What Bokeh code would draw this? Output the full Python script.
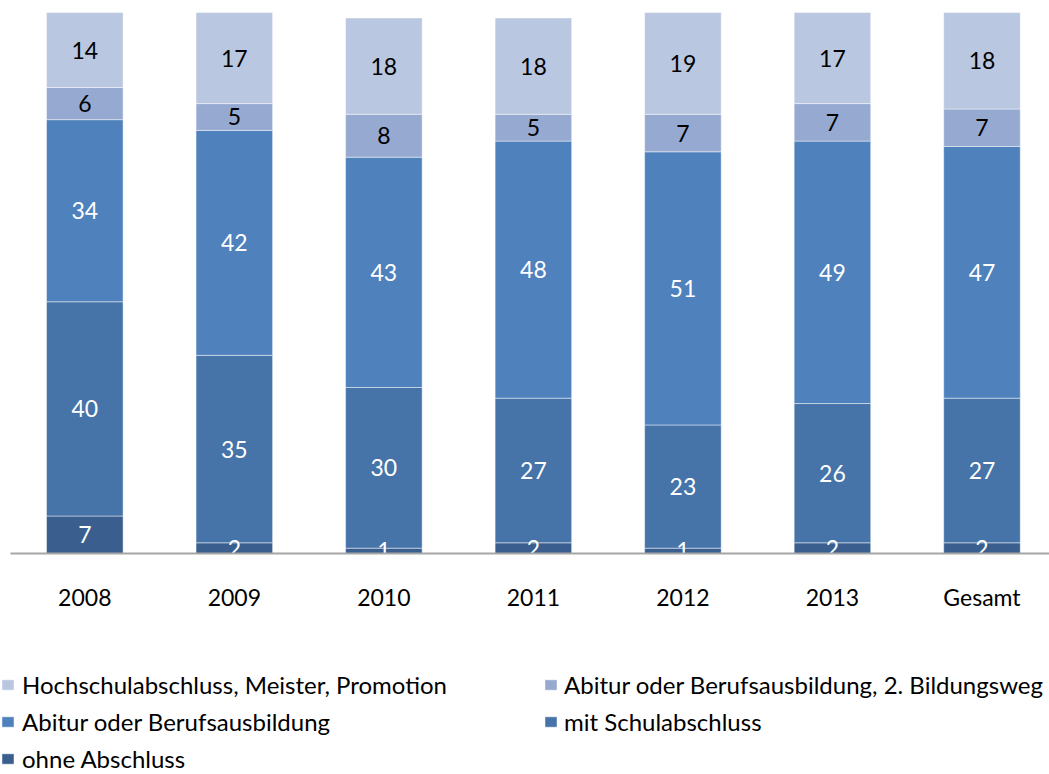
import numpy as np
from bokeh.plotting import figure
from bokeh.models import ColumnDataSource, Range1d, FixedTicker, Legend, LegendItem
from bokeh.core.properties import value
from bokeh.embed import file_html
from bokeh.resources import INLINE

categories = ["2008", "2009", "2010", "2011", "2012", "2013", "Gesamt"]
ohne_abschluss = [7, 2, 1, 2, 1, 2, 2]
mit_schulabschluss = [40, 35, 30, 27, 23, 26, 27]
abitur_berufsausbildung = [34, 42, 43, 48, 51, 49, 47]
zweiter_bildungsweg = [6, 5, 8, 5, 7, 7, 7]
hochschulabschluss = [14, 17, 18, 18, 19, 17, 18]

series_names = ["ohne Abschluss", "mit Schulabschluss", "Abitur oder Berufsausbildung",
                "Abitur oder Berufsausbildung, 2. Bildungsweg",
                "Hochschulabschluss, Meister, Promotion"]
series_values = [ohne_abschluss, mit_schulabschluss, abitur_berufsausbildung,
                 zweiter_bildungsweg, hochschulabschluss]
colors = ["#3A5F8F", "#4673A8", "#4F81BD", "#95A9D1", "#B9C7E0"]
label_colors = ["white", "white", "white", "black", "black"]

FONT = "Lato"
FS = "23px"
LEG_FS = "24px"

xs = list(range(len(categories)))
keys = ["s%d" % i for i in range(len(series_values))]
data = {"x": xs}
for k, v in zip(keys, series_values):
    data[k] = v
src = ColumnDataSource(data)

p = figure(width=1049, height=774, output_backend="svg", toolbar_location=None,
           x_range=Range1d(-0.5638, 6.4516), y_range=Range1d(-41.26, 103.25),
           min_border_left=0, min_border_right=0, min_border_top=0, min_border_bottom=0)
p.outline_line_color = None
p.grid.visible = False
p.yaxis.visible = False

renderers = p.vbar_stack(keys, x="x", width=0.512, color=colors, source=src,
                         line_color="white", line_alpha=0.45, line_width=1)

# segment labels
cum = np.zeros(len(categories))
for vals, tc in zip(series_values, label_colors):
    vals = np.array(vals, dtype=float)
    centers = cum + vals / 2
    cum = cum + vals
    p.text(x=xs, y=list(centers), text=[str(int(v)) for v in vals],
           text_align="center", text_baseline="middle",
           text_font=value(FONT), text_font_size=FS, text_color=tc)

ax = p.xaxis[0]
ax.fixed_location = 0
ax.bounds = (-0.497, 6.4516)
ax.ticker = FixedTicker(ticks=xs)
ax.major_label_overrides = {i: c for i, c in zip(xs, categories)}
ax.major_tick_line_color = None
ax.minor_tick_line_color = None
ax.major_tick_out = 0
ax.major_tick_in = 0
ax.axis_line_color = "#A6A6A6"
ax.axis_line_width = 2
ax.major_label_standoff = 29
ax.major_label_text_font = FONT
ax.major_label_text_font_size = FS
ax.major_label_text_color = "black"

by_name = dict(zip(series_names, renderers))
col1 = ["Hochschulabschluss, Meister, Promotion", "Abitur oder Berufsausbildung", "ohne Abschluss"]
col2 = ["Abitur oder Berufsausbildung, 2. Bildungsweg", "mit Schulabschluss"]

def make_legend(names, loc, standoff):
    lg = Legend(items=[LegendItem(label=n, renderers=[by_name[n]]) for n in names],
                location=loc, orientation="vertical", padding=0, margin=0,
                glyph_width=15, glyph_height=13, label_standoff=standoff,
                label_height=26, spacing=8,
                label_text_font=FONT, label_text_font_size=LEG_FS, label_text_color="black",
                border_line_color=None, background_fill_alpha=0)
    p.add_layout(lg, "center")
    return lg

make_legend(col1, (0, 1), 7)
make_legend(col2, (543, 38), 6)

open("out.html", "w").write(file_html(p, INLINE))
